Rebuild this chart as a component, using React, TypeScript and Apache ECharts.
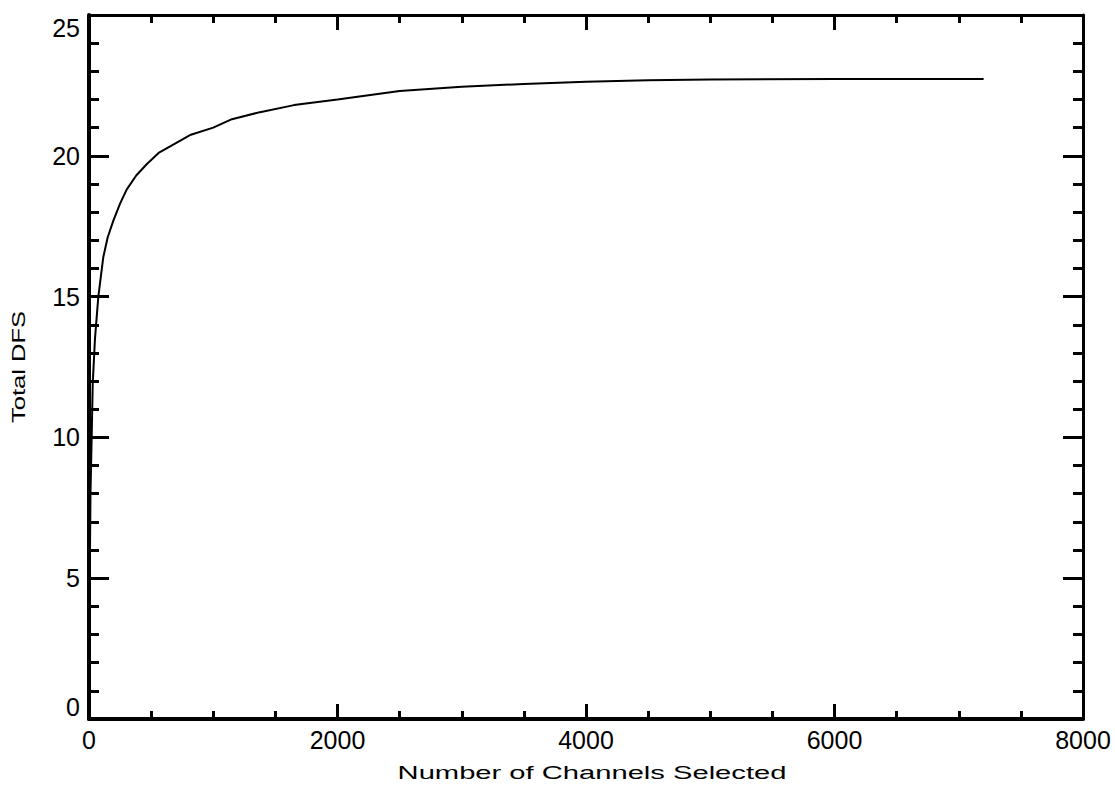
import React, { useEffect, useRef } from "react";
import * as echarts from "echarts";

const channels = [0, 1, 5, 12, 22, 30, 48, 75, 115, 150, 196, 250, 303, 380, 464, 560, 678, 820, 1000, 1150, 1376, 1650, 2000, 2500, 3000, 3500, 4000, 4500, 5000, 6000, 7200];
const totalDFS = [0, 1.0, 4.5, 8.0, 10.1, 11.9, 13.5, 15.0, 16.4, 17.1, 17.7, 18.3, 18.8, 19.3, 19.7, 20.1, 20.4, 20.75, 21.0, 21.3, 21.55, 21.8, 22.0, 22.3, 22.45, 22.55, 22.63, 22.68, 22.71, 22.73, 22.73];

const xTitle = "Number of Channels Selected";
const yTitle = "Total DFS";

export default function App() {
  const ref = useRef<HTMLDivElement>(null);
  useEffect(() => {
    if (!ref.current) return;
    const chart = echarts.init(ref.current, null, { renderer: "svg" });
    const font = "Liberation Sans";
    const xBase = {
      type: "value" as const,
      min: 0,
      max: 8000,
      interval: 2000,
      splitLine: { show: false },
      minorTick: { show: true, splitNumber: 4, length: 8, lineStyle: { color: "#000", width: 3 } },
      axisTick: { show: true, inside: true, length: 15, lineStyle: { color: "#000", width: 3 } },
    };
    const yBase = {
      type: "value" as const,
      min: 0,
      max: 25,
      interval: 5,
      splitLine: { show: false },
      minorTick: { show: true, splitNumber: 5, length: 10, lineStyle: { color: "#000", width: 3 } },
      axisTick: { show: true, inside: true, length: 20, lineStyle: { color: "#000", width: 3 } },
    };
    chart.setOption({
      animation: false,
      backgroundColor: "#fff",
      grid: { left: 89, right: 32, top: 15, bottom: 69, containLabel: false },
      xAxis: [
        {
          ...xBase,
          position: "bottom",
          axisLine: { show: true, onZero: false, lineStyle: { color: "#000", width: 4 } },
          axisLabel: {
            show: true,
            color: "#000",
            fontFamily: font,
            fontSize: 25,
            margin: 8,
            formatter: (v: number) => String(v),
          },
        },
        {
          ...xBase,
          position: "top",
          axisLine: { show: true, onZero: false, lineStyle: { color: "#000", width: 3 } },
          axisLabel: { show: false },
        },
      ],
      yAxis: [
        {
          ...yBase,
          position: "left",
          axisLine: { show: true, onZero: false, lineStyle: { color: "#000", width: 4 } },
          axisLabel: {
            show: true,
            color: "#000",
            fontFamily: font,
            fontSize: 25,
            margin: 9,
            formatter: (v: number) => String(v),
            verticalAlignMaxLabel: "top",
            verticalAlignMinLabel: "bottom",
          },
        },
        {
          ...yBase,
          position: "right",
          axisLine: { show: true, onZero: false, lineStyle: { color: "#000", width: 3 } },
          axisLabel: { show: false },
        },
      ],
      graphic: [
        {
          type: "text",
          x: 592,
          y: 773,
          scaleX: 1.62,
          style: {
            text: xTitle,
            font: `18px "${font}"`,
            fill: "#000",
            align: "center",
            verticalAlign: "middle",
          },
        },
        {
          type: "text",
          x: 19,
          y: 367,
          rotation: Math.PI / 2,
          scaleX: 1.42,
          style: {
            text: yTitle,
            font: `18px "${font}"`,
            fill: "#000",
            align: "center",
            verticalAlign: "middle",
          },
        },
      ],
      series: [
        {
          type: "line",
          xAxisIndex: 0,
          yAxisIndex: 0,
          data: channels.map((c, i) => [c, totalDFS[i]]),
          showSymbol: false,
          smooth: false,
          lineStyle: { color: "#000", width: 2 },
        },
      ],
    });
    return () => chart.dispose();
  }, []);
  return (
    <div
      ref={ref}
      style={{ position: "fixed", left: 0, top: 0, width: 1115, height: 788, background: "#fff" }}
    />
  );
}
